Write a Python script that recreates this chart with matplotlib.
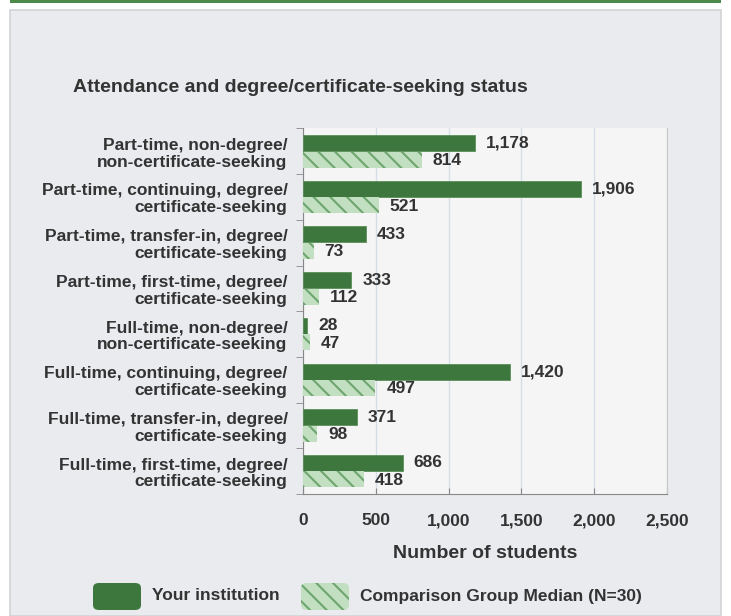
import matplotlib.pyplot as plt
import numpy as np
from matplotlib.patches import FancyBboxPatch, Rectangle
from matplotlib.ticker import FuncFormatter, MultipleLocator

plt.rcParams['font.family'] = ['Liberation Sans', 'DejaVu Sans']
plt.rcParams['hatch.linewidth'] = 1.5

# categories, top to bottom
categories = [
    "Part-time, non-degree/\nnon-certificate-seeking",
    "Part-time, continuing, degree/\ncertificate-seeking",
    "Part-time, transfer-in, degree/\ncertificate-seeking",
    "Part-time, first-time, degree/\ncertificate-seeking",
    "Full-time, non-degree/\nnon-certificate-seeking",
    "Full-time, continuing, degree/\ncertificate-seeking",
    "Full-time, transfer-in, degree/\ncertificate-seeking",
    "Full-time, first-time, degree/\ncertificate-seeking",
]
your_institution = [1178, 1906, 433, 333, 28, 1420, 371, 686]
comparison_median = [814, 521, 73, 112, 47, 497, 98, 418]

title = "Attendance and degree/certificate-seeking status"
xlabel = "Number of students"
legend_labels = ["Your institution", "Comparison Group Median (N=30)"]

DARK = '#3e773e'
LIGHT = '#c2dfc2'
HATCH = '#6ea66e'
TEXT = '#333333'
PANEL = '#eaebef'

fig = plt.figure(figsize=(7.31, 6.16), dpi=100)
fig.patch.set_facecolor('white')

# outer panel and the green rule on top
fig.add_artist(Rectangle((10 / 731, 0), 711 / 731, 1 - 10 / 616, transform=fig.transFigure,
                         facecolor=PANEL, edgecolor='#d2d3d6', lw=1.2, zorder=0))
fig.add_artist(Rectangle((10 / 731, 1 - 3 / 616), 711 / 731, 3 / 616, transform=fig.transFigure,
                         facecolor='#4b8a4b', edgecolor='none', zorder=0))

ax = fig.add_axes([303 / 731, 1 - 494 / 616, 364 / 731, 366 / 616])
ax.set_facecolor('#f5f5f5')

y = np.arange(len(categories))
h = 0.35
ax.barh(y - 0.18, your_institution, height=h, color=DARK, edgecolor='#5a905a', lw=0.6, zorder=3)
ax.barh(y + 0.18, comparison_median, height=h, color=LIGHT, edgecolor='none', zorder=3)
# hatch overlay (hatch takes the edge colour)
ax.barh(y + 0.18, comparison_median, height=h, facecolor='none', edgecolor=HATCH, lw=0,
        hatch='\\\\', zorder=3)

for i in range(len(categories)):
    ax.text(your_institution[i] + 75, y[i] - 0.18, f"{your_institution[i]:,}", va='center',
            ha='left', fontsize=12.5, fontweight='bold', color=TEXT, zorder=4)
    ax.text(comparison_median[i] + 75, y[i] + 0.2, f"{comparison_median[i]:,}", va='center',
            ha='left', fontsize=12.5, fontweight='bold', color=TEXT, zorder=4)

ax.set_xlim(0, 2500)
ax.set_ylim(7.49, -0.51)
ax.xaxis.set_major_locator(MultipleLocator(500))
ax.xaxis.set_major_formatter(FuncFormatter(lambda v, p: f"{int(v):,}"))
ax.grid(axis='x', color='#d5dde8', lw=1, zorder=0)

ax.set_yticks(y)
ax.set_yticklabels(categories, fontsize=12.5, fontweight='bold', color=TEXT, linespacing=1.15)
ax.set_yticks(np.arange(len(categories) + 1) - 0.5, minor=True)
ax.tick_params(axis='y', which='major', length=0, pad=11)
ax.tick_params(axis='y', which='minor', length=5, color='#888888')
ax.tick_params(axis='x', length=4, color='#888888', labelsize=12.5, labelcolor=TEXT, pad=14, direction='in')
for lbl in ax.get_xticklabels():
    lbl.set_fontweight('bold')

ax.spines['top'].set_visible(False)
ax.spines['right'].set_color('#c8c8c8')
ax.spines['left'].set_color('#888888')
ax.spines['bottom'].set_color('#888888')

ax.set_xlabel(xlabel, fontsize=14, fontweight='bold', color=TEXT, labelpad=12)
fig.text(73 / 731, 1 - 88 / 616, title, fontsize=14, fontweight='bold', color=TEXT, va='center')

# legend
fig.add_artist(FancyBboxPatch((93 / 731, 1 - 610 / 616), 48 / 731, 27 / 616,
                              boxstyle='round,pad=0.0,rounding_size=0.008', transform=fig.transFigure,
                              facecolor=DARK, edgecolor='none'))
fig.add_artist(FancyBboxPatch((301 / 731, 1 - 610 / 616), 48 / 731, 27 / 616,
                              boxstyle='round,pad=0.0,rounding_size=0.008', transform=fig.transFigure,
                              facecolor=LIGHT, edgecolor='none'))
fig.add_artist(FancyBboxPatch((301 / 731, 1 - 610 / 616), 48 / 731, 27 / 616,
                              boxstyle='round,pad=0.0,rounding_size=0.008', transform=fig.transFigure,
                              facecolor='none', edgecolor=HATCH, lw=0, hatch='\\\\'))
fig.text(152 / 731, 1 - 596 / 616, legend_labels[0], fontsize=12.5, fontweight='bold', color=TEXT, va='center')
fig.text(360 / 731, 1 - 596 / 616, legend_labels[1], fontsize=12.5, fontweight='bold', color=TEXT, va='center')

fig.savefig('out.png', dpi=100)
